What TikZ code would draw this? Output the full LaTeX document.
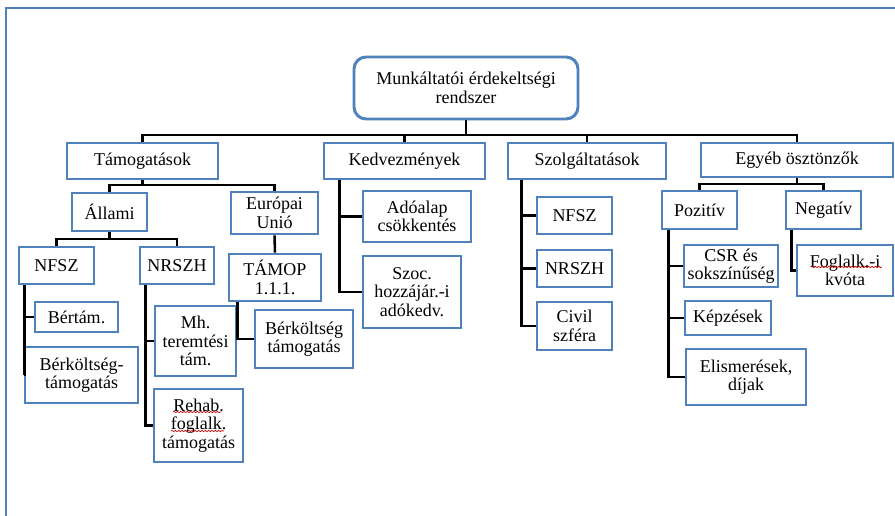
\documentclass[tikz,border=0pt]{standalone}
\usepackage{fontspec}
\setmainfont{Liberation Serif}
\usetikzlibrary{calc}
\usetikzlibrary{decorations.pathmorphing}
\definecolor{boxblue}{HTML}{4F81BD}

\begin{document}
\begin{tikzpicture}[x=0.75pt, y=-0.75pt,
    box/.style={draw=boxblue, line width=2.2pt, fill=white, align=center, inner sep=0pt,
                font=\fontsize{13.5}{13.8}\selectfont},
    boxsize/.style 2 args={minimum width=#1*0.75pt, minimum height=#2*0.75pt},
    link/.style={line width=1.9pt},
    spell/.style={red!80!black, line width=0.5pt, decorate,
                  decoration={snake, amplitude=0.5pt, segment length=2.5pt}}]
    \useasboundingbox (0,0) rectangle (895,516);
    \draw[boxblue, line width=1pt] (6,516) -- (6,8) -- (895,8);

    % top level
    \node[box, boxsize={224}{62}, rounded corners=9pt] (root) at (466,88) {Munkáltatói érdekeltségi\\rendszer};
    \node[box, boxsize={151}{36}] (tam) at (142.5,161) {Támogatások};
    \node[box, boxsize={161}{36}] (kedv) at (404.5,161) {Kedvezmények};
    \node[box, boxsize={158}{36}] (szolg) at (587,161) {Szolgáltatások};
    \node[box, boxsize={192}{34}] (egyeb) at (797,160) {Egyéb ösztönzők};

    % Támogatások
    \node[box, boxsize={75}{38}] (allami) at (109.5,212) {Állami};
    \node[box, boxsize={87}{42}] (eu) at (274.5,213) {Európai\\Unió};
    \node[box, boxsize={75}{37}] (nfsza) at (56.5,265.5) {NFSZ};
    \node[box, boxsize={74}{37}] (nrszha) at (177,265.5) {NRSZH};
    \node[box, boxsize={92}{47}] (tamop) at (275,277.5) {TÁMOP\\1.1.1.};
    \node[box, boxsize={83}{30}] (bertam) at (76.5,317) {Bértám.};
    \node[box, boxsize={113}{56}] (berka) at (81.5,375) {Bérköltség-\\támogatás};
    \node[box, boxsize={81}{70}] (mh) at (195.5,341) {Mh.\\teremtési\\tám.};
    \node[box, boxsize={89}{73}] (rehab) at (198.5,425.5) {Rehab.\\foglalk.\\támogatás};
    \node[box, boxsize={98}{58}] (berkb) at (304,339) {Bérköltség\\támogatás};

    % Kedvezmények
    \node[box, boxsize={108}{51}] (adoalap) at (417,216.5) {Adóalap\\csökkentés};
    \node[box, boxsize={98}{72}] (szoc) at (412,292) {Szoc.\\hozzájár.-i\\adókedv.};

    % Szolgáltatások
    \node[box, boxsize={75}{37}] (nfszb) at (574.5,215.5) {NFSZ};
    \node[box, boxsize={75}{37}] (nrszhb) at (574.5,268.5) {NRSZH};
    \node[box, boxsize={75}{48}] (civil) at (574.5,326) {Civil\\szféra};

    % Egyéb ösztönzők
    \node[box, boxsize={75}{38}] (pozitiv) at (699.5,210) {Pozitív};
    \node[box, boxsize={75}{38}] (negativ) at (823.5,210) {Negatív};
    \node[box, boxsize={94}{42}] (csr) at (731,266) {CSR és\\sokszínűség};
    \node[box, boxsize={86}{34}] (kepzes) at (728,318) {Képzések};
    \node[box, boxsize={120}{56}] (elism) at (746,377) {Elismerések,\\díjak};
    \node[box, boxsize={96}{51}] (foglalk) at (845,270.5) {Foglalk.-i\\kvóta};

    % spelling marks
    \draw[spell] (173,412) -- (221,412);
    \draw[spell] (171,431) -- (224,431);
    \draw[spell] (811,267) -- (882,267);

    % connectors
    \coordinate (rootbus) at (466,135);
    \draw[link] (root.south) -- (rootbus);
    \draw[link] (tam.north) |- (rootbus) -| (egyeb.north);
    \draw[link] (kedv.north) |- (rootbus);
    \draw[link] (szolg.north) |- (rootbus);

    \coordinate (tambus) at (142.5,185);
    \draw[link] (tam.south) -- (tambus);
    \draw[link] (allami.north) |- (tambus) -| (eu.north);
    \coordinate (allbus) at (109.5,239);
    \draw[link] (allami.south) -- (allbus);
    \draw[link] (nfsza.north) |- (allbus) -| (nrszha.north);
    \draw[link] (eu.south) -- (tamop.north);
    \draw[link] ($(nfsza.south west)+(7,0)$) |- (bertam.west);
    \draw[link] ($(nfsza.south west)+(7,0)$) |- (berka.west);
    \draw[link] ($(nrszha.south west)+(7,0)$) |- (mh.west);
    \draw[link] ($(nrszha.south west)+(7,0)$) |- (rehab.west);
    \draw[link] ($(tamop.south west)+(10,0)$) |- (berkb.west);

    \draw[link] ($(kedv.south west)+(17,0)$) |- (adoalap.west);
    \draw[link] ($(kedv.south west)+(17,0)$) |- (szoc.west);

    \draw[link] ($(szolg.south west)+(15,0)$) |- (nfszb.west);
    \draw[link] ($(szolg.south west)+(15,0)$) |- (nrszhb.west);
    \draw[link] ($(szolg.south west)+(15,0)$) |- (civil.west);

    \coordinate (egybus) at (797,184);
    \draw[link] (egyeb.south) -- (egybus);
    \draw[link] (pozitiv.north) |- (egybus) -| (negativ.north);
    \draw[link] ($(pozitiv.south west)+(8,0)$) |- (csr.west);
    \draw[link] ($(pozitiv.south west)+(8,0)$) |- (kepzes.west);
    \draw[link] ($(pozitiv.south west)+(8,0)$) |- (elism.west);
    \draw[link] ($(negativ.south west)+(7,0)$) |- (foglalk.west);
\end{tikzpicture}
\end{document}
